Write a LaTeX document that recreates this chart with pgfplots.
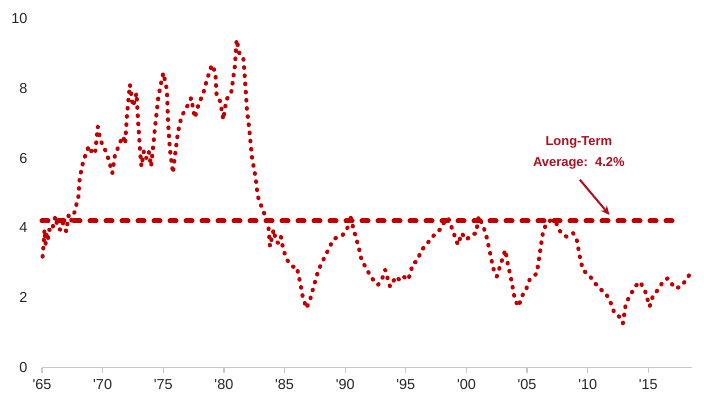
\documentclass[border=0pt]{standalone}
\usepackage{pgfplots}
\pgfplotsset{compat=1.18}
\usepackage{fontspec}
\setmainfont{Liberation Sans}
\usetikzlibrary{arrows.meta}
\definecolor{datared}{RGB}{192,0,0}
\definecolor{txtred}{RGB}{170,16,30}
\definecolor{axgray}{RGB}{200,200,200}
\begin{document}
\begin{tikzpicture}
\useasboundingbox (-42bp,-28.3bp) rectangle (662bp,367.7bp);
\begin{axis}[
  at={(0,0)}, anchor=south west,
  scale only axis, width=650bp, height=349.4bp,
  xmin=1965, xmax=2018.6, ymin=0, ymax=10,
  clip=false,
  axis x line*=bottom, axis y line*=left,
  axis line style={-},
  x axis line style={draw=axgray, line width=1.3bp},
  y axis line style={draw=none},
  xtick={1965,1970,1975,1980,1985,1990,1995,2000,2005,2010,2015},
  xticklabels={\textquotesingle 65,\textquotesingle 70,\textquotesingle 75,\textquotesingle 80,\textquotesingle 85,\textquotesingle 90,\textquotesingle 95,\textquotesingle 00,\textquotesingle 05,\textquotesingle 10,\textquotesingle 15},
  ytick={0,2,4,6,8,10},
  tick align=outside,
  x tick style={draw=axgray, line width=1.2bp},
  major tick length=5bp,
  y tick style={draw=none},
  /pgf/number format/assume math mode=true,
  tick label style={font=\fontsize{14.5}{16}\selectfont, text=black!85},
  xticklabel style={yshift=-3bp},
  yticklabel style={xshift=-6bp},
]
\addplot[datared, line width=5bp, dash pattern=on 6bp off 10bp, line cap=round]
  coordinates {(1965,4.2) (2017.75,4.2)};
\addplot[datared, line width=4.1bp, line cap=round, line join=round, dash pattern=on 0.6bp off 7.6bp]
  table {
x y
1965.05 3.18
1965.15 3.6
1965.2 3.95
1965.3 3.55
1965.4 3.85
1965.5 3.7
1965.6 3.95
1965.8 3.9
1966.1 4.33
1966.3 4.0
1966.5 3.95
1966.7 4.15
1967.0 3.9
1967.2 4.37
1967.4 4.2
1967.7 4.47
1968.0 4.9
1968.1 5.38
1968.3 5.76
1968.5 6.0
1968.8 6.29
1969.0 6.15
1969.2 6.3
1969.4 6.2
1969.6 6.9
1969.8 6.52
1970.2 6.24
1970.5 5.95
1970.8 5.57
1971.0 6.05
1971.4 6.43
1971.7 6.62
1971.85 6.4
1972.0 7.19
1972.25 8.1
1972.5 7.48
1972.8 7.86
1972.9 7.19
1973.1 6.14
1973.2 5.76
1973.4 6.2
1973.6 6.0
1973.8 6.19
1974.0 5.76
1974.3 6.81
1974.6 7.77
1975.0 8.44
1975.3 7.96
1975.4 7.0
1975.55 6.24
1975.8 5.57
1975.96 6.05
1976.2 6.72
1976.5 7.19
1976.9 7.43
1977.3 7.72
1977.6 7.15
1977.9 7.53
1978.3 7.86
1978.6 8.24
1979.0 8.67
1979.3 8.44
1979.4 7.77
1979.7 7.62
1979.95 7.1
1980.2 7.67
1980.6 7.86
1980.9 8.62
1981.05 9.39
1981.3 8.96
1981.6 8.87
1981.7 8.44
1981.9 7.38
1982.1 6.81
1982.3 6.05
1982.6 5.47
1982.8 4.9
1983.2 4.52
1983.65 4.14
1983.8 3.47
1984.1 3.95
1984.3 3.6
1984.5 3.57
1984.7 3.75
1984.9 3.37
1985.2 3.09
1985.5 2.95
1985.7 2.89
1986.0 2.89
1986.3 2.42
1986.5 2.03
1986.8 1.70
1987.1 1.94
1987.4 2.32
1987.8 2.8
1988.2 3.09
1988.6 3.37
1989.0 3.66
1989.4 3.75
1989.8 3.8
1990.25 4.04
1990.4 4.37
1990.7 3.95
1991.1 3.47
1991.35 3.09
1991.8 2.8
1992.2 2.56
1992.7 2.37
1993.0 2.5
1993.3 2.8
1993.7 2.32
1994.2 2.61
1994.5 2.5
1994.8 2.61
1995.2 2.51
1995.6 2.99
1995.9 3.04
1996.3 3.37
1996.7 3.52
1997.1 3.71
1997.5 3.85
1997.8 3.95
1998.2 4.18
1998.5 4.28
1998.8 3.99
1999.05 3.75
1999.3 3.52
1999.6 3.85
2000.0 3.66
2000.4 3.80
2000.8 3.85
2001.0 4.33
2001.4 4.04
2001.65 3.75
2001.9 3.37
2002.2 2.85
2002.5 2.61
2002.8 2.94
2003.2 3.37
2003.4 2.99
2003.7 2.51
2004.0 1.94
2004.3 1.75
2004.55 2.03
2004.95 2.27
2005.2 2.51
2005.8 2.7
2006.05 3.28
2006.3 3.85
2006.6 4.14
2007.0 4.23
2007.4 4.14
2007.8 3.85
2008.25 3.75
2008.8 3.85
2009.1 3.66
2009.35 3.18
2009.6 2.8
2010.2 2.61
2010.6 2.42
2011.1 2.23
2011.5 2.13
2011.9 1.85
2012.2 1.56
2012.6 1.46
2012.9 1.27
2013.15 1.85
2013.6 2.13
2013.9 2.32
2014.3 2.46
2014.7 2.23
2015.1 1.75
2015.4 2.08
2015.8 2.23
2016.2 2.46
2016.6 2.56
2017.2 2.27
2017.7 2.32
2018.1 2.51
2018.55 2.75
};
\node[text=txtred, align=center, font=\fontsize{13}{21}\selectfont\bfseries]
  at (axis cs:2009.27,6.16) {Long-Term\\Average:\ \ 4.2\%};
\draw[txtred, line width=2bp, -{Stealth[length=9bp,width=8bp]}]
  (axis cs:2009.35,5.38) -- (axis cs:2011.8,4.37);
\end{axis}
\end{tikzpicture}
\end{document}
